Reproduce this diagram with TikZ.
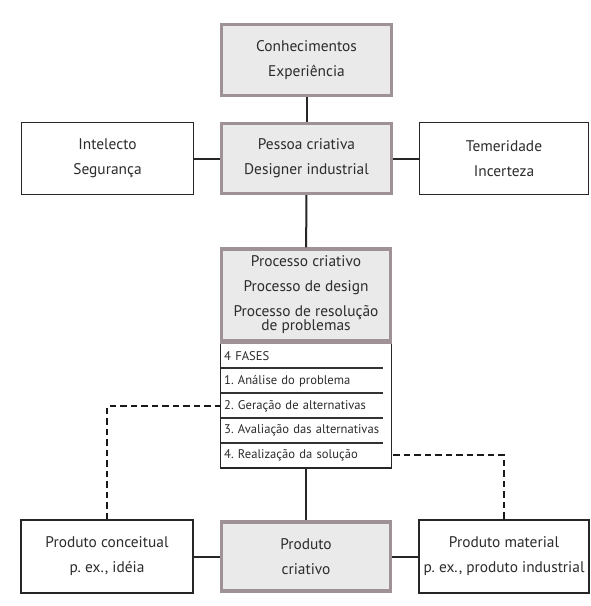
\documentclass[tikz,border=0pt]{standalone}
\usepackage{fontspec}
\setmainfont{PT Sans}
\frenchspacing
\definecolor{grayb}{HTML}{9E9297}
\definecolor{grayf}{HTML}{EAEAEA}
\definecolor{txt}{HTML}{2C2C2C}
\begin{document}
\begin{tikzpicture}[x=1pt,y=-1pt,
  graybox/.style={draw=grayb, line width=3.4pt, fill=grayf, inner sep=0pt,
    font=\fontsize{15.4}{25}\selectfont, text=txt, align=center},
  whitebox/.style={draw=black!85, line width=1.8pt, fill=white, inner sep=0pt,
    font=\fontsize{15.4}{25}\selectfont, text=txt, align=center},
  phaserow/.style={anchor=west, inner xsep=3pt, inner ysep=0pt, text width=166pt,
    align=left, font=\fontsize{12.6}{13}\selectfont, text=txt},
  conn/.style={draw=black!85, line width=2pt},
  dashconn/.style={draw=black!90, line width=2.8pt, dash pattern=on 6.5pt off 4pt},
  sepline/.style={draw=black!80, line width=1.3pt}]
\useasboundingbox (0,0) rectangle (590,606);
\fill[white] (0,0) rectangle (590,606);
% top
\node[graybox, minimum width=170pt, minimum height=71pt] (con) at (306.5,60) {Conhecimentos\\Experiência};
\node[graybox, minimum width=170pt, minimum height=70pt] (pes) at (306.5,158.5) {Pessoa criativa\\Designer industrial};
\node[whitebox, minimum width=172pt, minimum height=72pt] (int) at (107.5,158.5) {Intelecto\\Segurança};
\node[whitebox, minimum width=169pt, minimum height=72pt] (tem) at (504,158.5) {Temeridade\\Incerteza};
% process
\node[graybox, minimum width=169pt, minimum height=92pt] (proc) at (306,295) {Processo criativo\\Processo de design\\Processo de resolução\\[-11pt]de problemas};
\node[draw=black!85, line width=1.8pt, fill=white, minimum width=171pt, minimum height=126pt, inner sep=0pt] (fases) at (306,405) {};
\draw[grayb, line width=3.4pt] (proc.south west) -- (proc.south east);
\node[phaserow] (r0) at (221,356) {4 FASES};
\node[phaserow] (r1) at (221,381) {1. Análise do problema};
\node[phaserow] (r2) at (221,406) {2. Geração de alternativas};
\node[phaserow] (r3) at (221,430) {3. Avaliação das alternativas};
\node[phaserow] (r4) at (221,455) {4. Realização da solução};
\draw[sepline] (221,368) -- (383,368);
\draw[sepline] (221,393) -- (383,393);
\draw[sepline] (221,418) -- (383,418);
\draw[sepline] (221,443) -- (383,443);
% bottom
\node[whitebox, minimum width=172pt, minimum height=73pt] (pc) at (107,556.5) {Produto conceitual\\p. ex., idéia};
\node[graybox, minimum width=169pt, minimum height=69pt] (pcr) at (306,556.5) {Produto\\criativo};
\node[whitebox, minimum width=170pt, minimum height=73pt] (pm) at (504,556.5) {Produto material\\p. ex., produto industrial};
% connectors
\draw[conn] (con) -- (pes);
\draw[conn] (int) -- (pes);
\draw[conn] (pes) -- (tem);
\draw[conn] (pes) -- (proc);
\draw[conn] (fases) -- (pcr);
\draw[conn] (pc) -- (pcr);
\draw[conn] (pcr) -- (pm);
\draw[dashconn] (r2.west) -| (pc.north);
\draw[dashconn] (r4.east) -| (pm.north);
\end{tikzpicture}
\end{document}
